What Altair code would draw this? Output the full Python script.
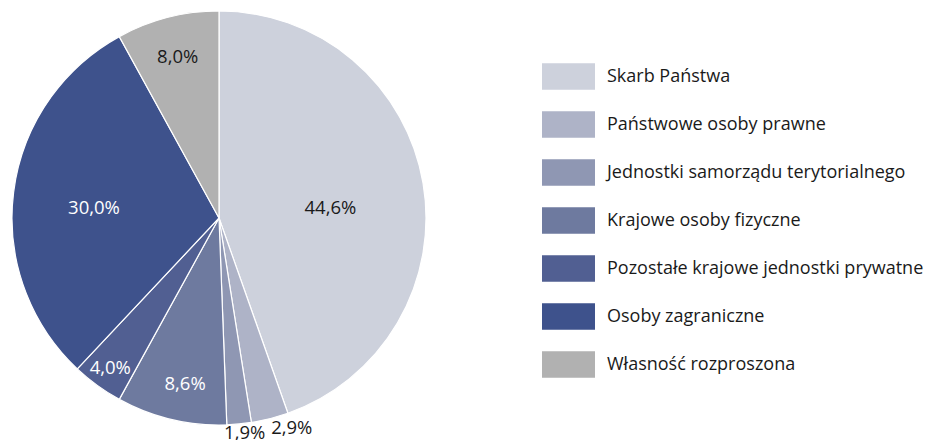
import altair as alt
import pandas as pd

categories = [
    "Skarb Państwa",
    "Państwowe osoby prawne",
    "Jednostki samorządu terytorialnego",
    "Krajowe osoby fizyczne",
    "Pozostałe krajowe jednostki prywatne",
    "Osoby zagraniczne",
    "Własność rozproszona",
]
shares = [44.6, 2.9, 1.9, 8.6, 4.0, 30.0, 8.0]
labels = ["44,6%", "2,9%", "1,9%", "8,6%", "4,0%", "30,0%", "8,0%"]

# styling
colors = ["#CDD1DC", "#AEB3C7", "#8F97B3", "#6E7A9F", "#515F92", "#3E528C", "#B1B1B1"]
label_colors = ["#1a1a1a", "#1a1a1a", "#1a1a1a", "#ffffff", "#ffffff", "#ffffff", "#1a1a1a"]
label_radius = [111, 227, 223, 169, 185, 126, 166]
label_nudge = [(2, 9), (17, -10), (4, -7), (5, 2), (0, 0), (0, 6), (0, 0)]
FONT = "Open Sans"

df = pd.DataFrame({
    "idx": list(range(len(categories))),
    "cat": categories,
    "share": shares,
    "label": labels,
    "lcol": label_colors,
    "lr": label_radius,
})

theta_scale = alt.Scale(domain=[0, 100], range=[0, 6.283185307179586])

base = (
    alt.Chart(df)
    .transform_window(cum="sum(share)", sort=[alt.SortField("idx", order="ascending")])
    .transform_calculate(start="datum.cum - datum.share", mid="datum.cum - datum.share / 2")
    .encode(x=alt.value(211), y=alt.value(210))
)

pie = base.mark_arc(outerRadius=207, stroke="white", strokeWidth=1.2).encode(
    theta=alt.Theta("start:Q", scale=theta_scale, stack=None),
    theta2="cum:Q",
    color=alt.Color(
        "cat:N",
        scale=alt.Scale(domain=categories, range=colors),
        sort=categories,
        legend=alt.Legend(
            title=None,
            orient="none",
            legendX=534,
            legendY=42,
            symbolType="M-1,-0.5H1V0.5H-1Z",
            symbolSize=2809,
            symbolStrokeWidth=0,
            symbolOpacity=1,
            labelFont=FONT,
            labelFontSize=18,
            labelColor="#1a1a1a",
            labelOffset=12,
            rowPadding=8,
            labelLimit=400,
        ),
    ),
)

layers = [pie]
for i, (ndx, ndy) in enumerate(label_nudge):
    layers.append(
        base.transform_filter(alt.datum.idx == i)
        .mark_text(font=FONT, fontSize=18.5, baseline="middle", align="center", dx=ndx, dy=ndy)
        .encode(
            theta=alt.Theta("mid:Q", scale=theta_scale, stack=None),
            text="label:N",
            radius=alt.Radius("lr:Q", scale=None),
            fill=alt.Fill("lcol:N", scale=None),
        )
    )

chart = (
    alt.layer(*layers)
    .properties(width=929, height=432, autosize=alt.AutoSizeParams(type="none"), padding=0)
    .configure_view(stroke=None)
)

chart.save("out.html", embed_options={"renderer": "svg", "actions": False})
